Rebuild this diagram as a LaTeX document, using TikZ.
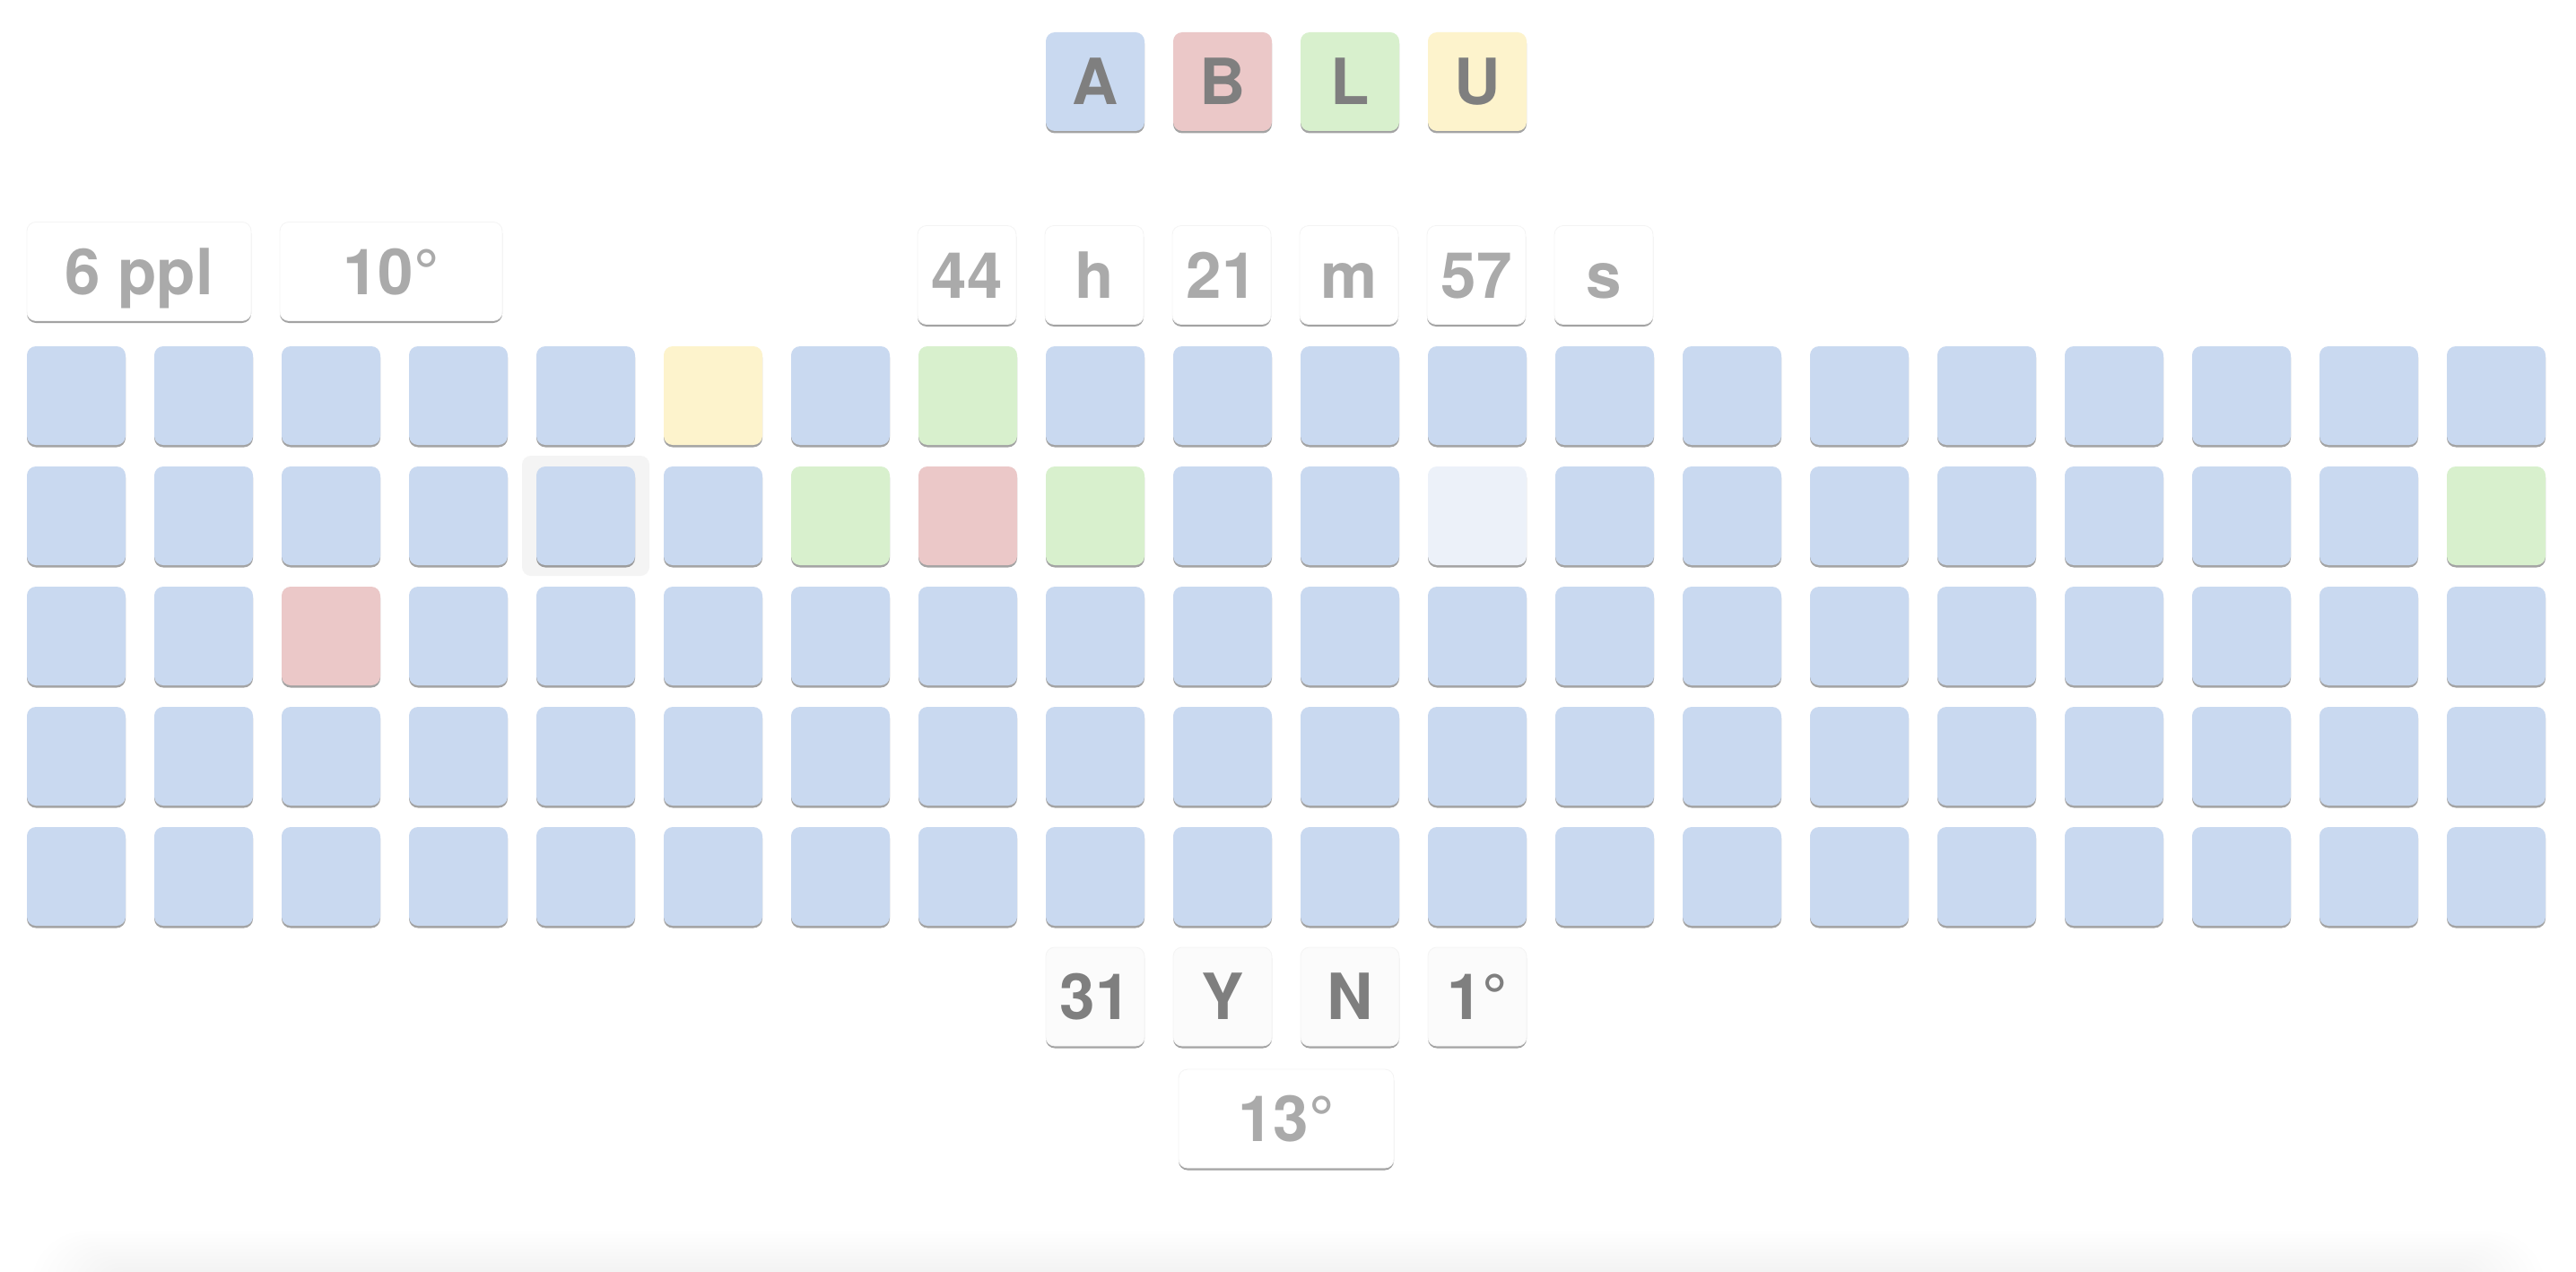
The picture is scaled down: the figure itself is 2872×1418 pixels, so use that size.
\documentclass[tikz,border=0pt]{standalone}
\usepackage{fontspec}
\setmainfont{TeX Gyre Heros}
\usetikzlibrary{shadows}
\definecolor{tblue}{HTML}{C9D9F0}
\definecolor{tred}{HTML}{EBC8C8}
\definecolor{tgreen}{HTML}{D8F0CD}
\definecolor{tyellow}{HTML}{FDF3CC}
\definecolor{tpale}{HTML}{ECF1F9}
\definecolor{thl}{HTML}{F4F4F4}
\definecolor{txtlight}{HTML}{AAAAAA}
\definecolor{txtdark}{HTML}{7F7F7F}
\definecolor{boxgray}{HTML}{FBFBFB}
\definecolor{edgegray}{HTML}{F4F4F4}
\newcommand\hfont{\fontsize{71}{71}\selectfont\bfseries}
\expandafter\def\csname tc1-5\endcsname{tyellow}
\expandafter\def\csname tc1-7\endcsname{tgreen}
\expandafter\def\csname tc2-6\endcsname{tgreen}
\expandafter\def\csname tc2-7\endcsname{tred}
\expandafter\def\csname tc2-8\endcsname{tgreen}
\expandafter\def\csname tc2-11\endcsname{tpale}
\expandafter\def\csname tc2-19\endcsname{tgreen}
\expandafter\def\csname tc3-2\endcsname{tred}
\def\tilecol#1#2{\ifcsname tc#1-#2\endcsname\csname tc#1-#2\endcsname\else tblue\fi}
\begin{document}
\begin{tikzpicture}[x=1pt,y=-1pt,
  card/.style={rounded corners=10pt, minimum height=110pt, inner sep=0pt,
    text height=51pt, text depth=0pt, font=\hfont,
    drop shadow={shadow xshift=0pt, shadow yshift=-2.5pt, fill=black, opacity=0.36}},
  tile/.style={card, minimum width=110pt, fill=tblue},
  legendbox/.style={card, minimum width=110pt, text=txtdark},
  whitebox/.style={card, fill=white, draw=edgegray, line width=0.8pt, text=txtlight},
  graybox/.style={card, minimum width=110pt, fill=boxgray, draw=edgegray, line width=0.8pt, text=txtdark}
]
\useasboundingbox (0,0) rectangle (2872,1418);
\fill[white] (0,0) rectangle (2872,1418);
% soft shadow at the bottom edge
\foreach \i [evaluate=\i as \rr using 4*\i+2] in {0,...,15}
  \fill[black, opacity=0.0045, rounded corners=\rr pt]
    (155-8*\i, 1432-4*\i) rectangle (2717+8*\i, 1540);
% legend
\node[legendbox, fill=tblue]   (legA) at (1221,91) {A};
\node[legendbox, fill=tred]    (legB) at (1363,91) {B};
\node[legendbox, fill=tgreen]  (legL) at (1505,91) {L};
\node[legendbox, fill=tyellow] (legU) at (1647,91) {U};
% header
\node[whitebox, minimum width=250pt] (hppl)  at (155,302.5) {6 ppl};
\node[whitebox, minimum width=248pt] (htemp) at (436,302.5) {10°};
\node[whitebox, minimum width=110pt] (t44) at (1078,306.5) {44};
\node[whitebox, minimum width=110pt] (th)  at (1220,306.5) {h};
\node[whitebox, minimum width=110pt] (t21) at (1362,306.5) {21};
\node[whitebox, minimum width=110pt] (tm)  at (1504,306.5) {m};
\node[whitebox, minimum width=110pt] (t57) at (1646,306.5) {57};
\node[whitebox, minimum width=110pt] (ts)  at (1788,306.5) {s};
% highlight behind row 2, column 4
\fill[thl, rounded corners=10pt] (582,508) rectangle (724,642);
% grid of tiles
\foreach \r in {1,...,5}{
  \foreach \c in {0,...,19}{
    \edef\tc{\tilecol{\r}{\c}}
    \node[tile, fill=\tc] (tile-\r-\c) at (85+142*\c, 441+134*\r-134) {};
  }
}
% bottom
\node[graybox] (b31) at (1221,1111) {31};
\node[graybox] (bY)  at (1363,1111) {Y};
\node[graybox] (bN)  at (1505,1111) {N};
\node[graybox] (b1)  at (1647,1111) {1°};
\node[whitebox, minimum width=240pt] (b13) at (1434,1247) {13°};
\end{tikzpicture}
\end{document}
